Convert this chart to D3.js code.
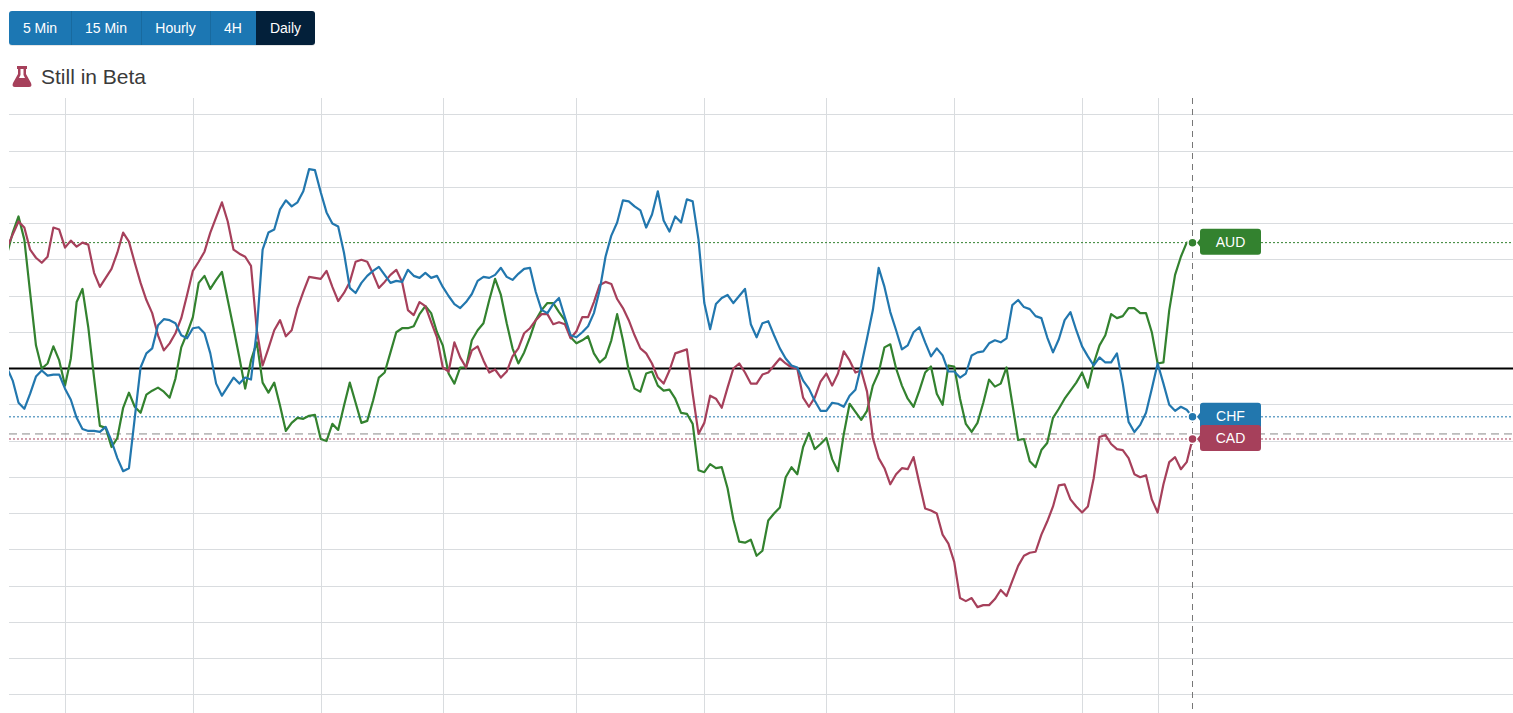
<!DOCTYPE html>
<html>
<head>
<meta charset="utf-8">
<title>Still in Beta</title>
<script src="https://cdn.jsdelivr.net/npm/d3@7"></script>
<style>
    html, body { margin: 0; padding: 0; background: #fff; overflow: hidden; }
    svg { display: block; font-family: "Liberation Sans", Arial, sans-serif; }
</style>
</head>
<body>
<div id="chart"></div>
<script>
const buttons = ["5 Min", "15 Min", "Hourly", "4H", "Daily"];
const activeButton = "Daily";
const buttonEdges = [9, 71, 141, 210, 256, 315];
const title = "Still in Beta";

// strength values, one grid step is 36 units
const aud = [
    113,135,151,128,75,23,0,5,22,8,
    -17,10,66,79,41,-9,-57,-59,-78,-69,
    -39,-24,-38,-44,-26,-22,-19,-23,-29,-10,
    21,35,51,85,92,79,88,96,68,40,
    11,-20,8,26,-14,-24,-14,-37,-62,-54,
    -49,-50,-47,-46,-70,-72,-55,-61,-37,-14,
    -34,-54,-52,-32,-9,-4,16,36,40,40,
    42,54,62,55,36,23,-5,-15,1,1,
    28,38,45,68,89,73,45,20,5,16,
    31,48,58,65,65,56,48,31,25,28,
    32,15,6,11,28,54,28,-2,-20,-23,
    -5,-3,-17,-22,-21,-30,-44,-45,-55,-101,
    -103,-95,-99,-98,-119,-150,-172,-173,-170,-186,
    -181,-151,-144,-138,-108,-98,-105,-78,-64,-80,
    -75,-69,-90,-102,-65,-35,-43,-51,-42,-17,
    -4,21,24,0,-17,-30,-38,-22,-4,2,
    -25,-36,3,2,-30,-55,-63,-54,-34,-11,
    -18,-15,1,-35,-71,-70,-92,-98,-81,-74,
    -49,-40,-30,-22,-14,-4,-19,5,23,33,
    54,50,52,60,60,55,55,36,5,6,
    58,93,111,125,125
];
const cad = [
    120,133,146,140,118,110,105,111,140,138,
    120,127,121,125,123,95,81,90,99,115,
    135,126,105,85,68,55,33,18,25,35,
    50,73,97,106,116,135,150,165,146,118,
    114,111,102,38,3,20,38,48,32,38,
    60,76,91,90,89,97,81,67,75,86,
    106,108,106,94,80,86,93,98,86,58,
    53,66,62,46,31,1,-3,26,11,1,
    18,22,8,-4,-1,-9,-3,12,20,35,
    40,48,54,54,44,46,44,30,37,51,
    51,66,83,86,84,69,60,48,33,20,
    15,5,-9,-15,-2,15,17,19,-25,-65,
    -54,-27,-30,-39,-19,0,5,-4,-15,-15,
    -6,-4,3,10,5,1,0,-29,-38,-29,
    -13,-5,-17,-5,17,8,-4,-2,-23,-69,
    -89,-99,-115,-105,-99,-100,-88,-114,-139,-141,
    -144,-165,-174,-192,-228,-231,-228,-237,-235,-235,
    -229,-220,-226,-211,-196,-186,-183,-182,-165,-152,
    -137,-116,-115,-130,-137,-143,-137,-109,-68,-66,
    -75,-80,-81,-89,-105,-108,-106,-130,-143,-115,
    -93,-88,-100,-93,-70
];
const chf = [
    1,-12,-34,-40,-25,-8,-2,-7,-6,-6,
    -20,-31,-49,-60,-62,-62,-63,-58,-72,-89,
    -102,-99,-49,1,15,20,43,49,48,45,
    33,30,40,41,35,15,-15,-27,-18,-9,
    -15,-9,-11,38,118,135,138,158,167,161,
    165,176,198,197,175,155,144,141,115,80,
    75,85,92,97,101,93,85,87,86,98,
    92,90,95,90,92,81,72,64,60,66,
    74,87,91,90,93,100,91,88,94,99,
    100,76,58,55,64,70,51,33,31,36,
    42,55,78,111,132,145,167,166,161,157,
    140,153,176,147,136,151,145,168,166,128,
    65,39,64,70,73,65,72,79,44,31,
    45,47,33,20,10,3,1,-12,-20,-32,
    -42,-42,-34,-35,-38,-27,-21,3,30,58,
    100,81,56,38,19,23,36,41,26,12,
    20,13,-3,-3,-9,-5,13,16,17,25,
    28,26,30,63,68,61,59,52,50,31,
    16,29,48,56,38,22,12,3,11,6,
    6,15,-15,-53,-63,-56,-44,-20,5,-15,
    -36,-42,-38,-41,-48
];
const dayStarts = [10, 32, 54, 75, 98, 120, 141, 163, 185, 198];
const yTicks = [-324, -288, -252, -216, -180, -144, -108, -72, -36, 36, 72, 108, 144, 180, 216, 252];
const averageLevel = -65;

const seriesNames = ["AUD", "CAD", "CHF"];
const labelOrder = ["AUD", "CHF", "CAD"];
const colors = { AUD: "#33822f", CAD: "#a6405b", CHF: "#2277ae" };
const values = { AUD: aud, CAD: cad, CHF: chf };

const width = 1513, height = 713;
const left = 9, top_ = 98, bottom = 713;
const zeroY = 368.5;
const pxPerUnit = 36.25 / 36;
const lastIndex = aud.length - 1;

const x = d3.scaleLinear().domain([0, lastIndex]).range([6.9, 1192.5]);
const y = d3.scaleLinear()
    .domain([(zeroY - bottom) / pxPerUnit, (zeroY - top_) / pxPerUnit])
    .range([bottom, top_]);

const svg = d3.select("#chart").append("svg")
    .attr("width", width)
    .attr("height", height);

svg.append("defs").append("clipPath").attr("id", "plot")
    .append("rect")
    .attr("x", left).attr("y", top_)
    .attr("width", width - left).attr("height", bottom - top_);

// button row
const btnGroup = svg.append("g");
btnGroup.append("rect")
    .attr("x", buttonEdges[0]).attr("y", 12)
    .attr("width", buttonEdges[5] - buttonEdges[0]).attr("height", 34)
    .attr("rx", 3)
    .attr("fill", "#000").attr("opacity", 0.1);
buttons.forEach((b, i) => {
    const x0 = buttonEdges[i], x1 = buttonEdges[i + 1];
    const active = b === activeButton;
    const r = 3;
    const tl = i === 0 ? r : 0, tr = i === buttons.length - 1 ? r : 0;
    btnGroup.append("path")
        .attr("d", `M${x0 + tl},11H${x1 - tr}Q${x1},11 ${x1},${11 + tr}V${45 - tr}Q${x1},45 ${x1 - tr},45H${x0 + tl}Q${x0},45 ${x0},${45 - tl}V${11 + tl}Q${x0},11 ${x0 + tl},11Z`)
        .attr("fill", active ? "#03203a" : "#1c77b3");
    if (i > 0 && !active) {
        btnGroup.append("line")
            .attr("x1", x0 + 0.5).attr("x2", x0 + 0.5).attr("y1", 11).attr("y2", 45)
            .attr("stroke", "#186a9f");
    }
    btnGroup.append("text")
        .attr("x", (x0 + x1) / 2).attr("y", 33)
        .attr("text-anchor", "middle")
        .attr("font-size", 14)
        .attr("fill", "#fff")
        .text(b);
});

// title with flask icon
svg.append("path")
    .attr("d", "M17,66H27V69H26V74L31,83Q32.5,87 29,87H15Q11.5,87 13,83L18,74V69H17Z")
    .attr("fill", colors.CAD);
svg.append("path")
    .attr("d", "M20.5,69H23.5V75L25,78H19L20.5,75Z")
    .attr("fill", "#fff");
svg.append("text")
    .attr("x", 41).attr("y", 84)
    .attr("font-size", 21)
    .attr("fill", "#3a3a3a")
    .text(title);

// grid
const grid = svg.append("g").attr("stroke", "#d9dcdf").attr("stroke-width", 1);
grid.selectAll("line.h").data(yTicks).join("line")
    .attr("class", "h")
    .attr("x1", left).attr("x2", width)
    .attr("y1", d => Math.floor(y(d)) + 0.5)
    .attr("y2", d => Math.floor(y(d)) + 0.5);
grid.selectAll("line.v").data(dayStarts).join("line")
    .attr("class", "v")
    .attr("x1", d => Math.round(x(d)) + 0.5)
    .attr("x2", d => Math.round(x(d)) + 0.5)
    .attr("y1", top_).attr("y2", bottom);

// average level and latest values
svg.append("line")
    .attr("x1", left).attr("x2", width)
    .attr("y1", y(averageLevel)).attr("y2", y(averageLevel))
    .attr("stroke", "#888").attr("stroke-dasharray", "8,5");
svg.selectAll("line.latest").data(seriesNames).join("line")
    .attr("class", "latest")
    .attr("x1", left).attr("x2", width)
    .attr("y1", d => y(values[d][lastIndex]))
    .attr("y2", d => y(values[d][lastIndex]))
    .attr("stroke", d => colors[d])
    .attr("stroke-dasharray", "2,2");
svg.append("line")
    .attr("x1", x(lastIndex)).attr("x2", x(lastIndex))
    .attr("y1", top_).attr("y2", bottom)
    .attr("stroke", "#777").attr("stroke-dasharray", "6,5");

// zero line
svg.append("line")
    .attr("x1", left).attr("x2", width)
    .attr("y1", y(0)).attr("y2", y(0))
    .attr("stroke", "#000").attr("stroke-width", 2);

// series
const line = d3.line().x((d, i) => x(i)).y(d => y(d));
svg.append("g").attr("clip-path", "url(#plot)")
    .selectAll("path").data(seriesNames).join("path")
    .attr("d", d => line(values[d]))
    .attr("fill", "none")
    .attr("stroke", d => colors[d])
    .attr("stroke-width", 2.2)
    .attr("stroke-linejoin", "round");

// end labels
labelOrder.forEach(name => {
    const v = values[name][lastIndex];
    const cy = y(v);
    const g = svg.append("g");
    g.append("circle")
        .attr("cx", x(lastIndex)).attr("cy", cy).attr("r", 4.5)
        .attr("fill", colors[name])
        .attr("stroke", "#fff").attr("stroke-width", 1.5);
    const lx = 1200, rx = 1261, ty = cy - 14, by = cy + 12;
    g.append("path")
        .attr("d", `M${lx + 3},${ty}H${rx - 3}Q${rx},${ty} ${rx},${ty + 3}V${by - 3}Q${rx},${by} ${rx - 3},${by}H${lx + 3}Q${lx},${by} ${lx},${by - 3}V${cy + 4}L${lx - 3},${cy}L${lx},${cy - 4}V${ty + 3}Q${lx},${ty} ${lx + 3},${ty}Z`)
        .attr("fill", colors[name]);
    g.append("text")
        .attr("x", (lx + rx) / 2).attr("y", cy + 4)
        .attr("text-anchor", "middle")
        .attr("font-size", 14)
        .attr("fill", "#fff")
        .text(name);
});
</script>
</body>
</html>
